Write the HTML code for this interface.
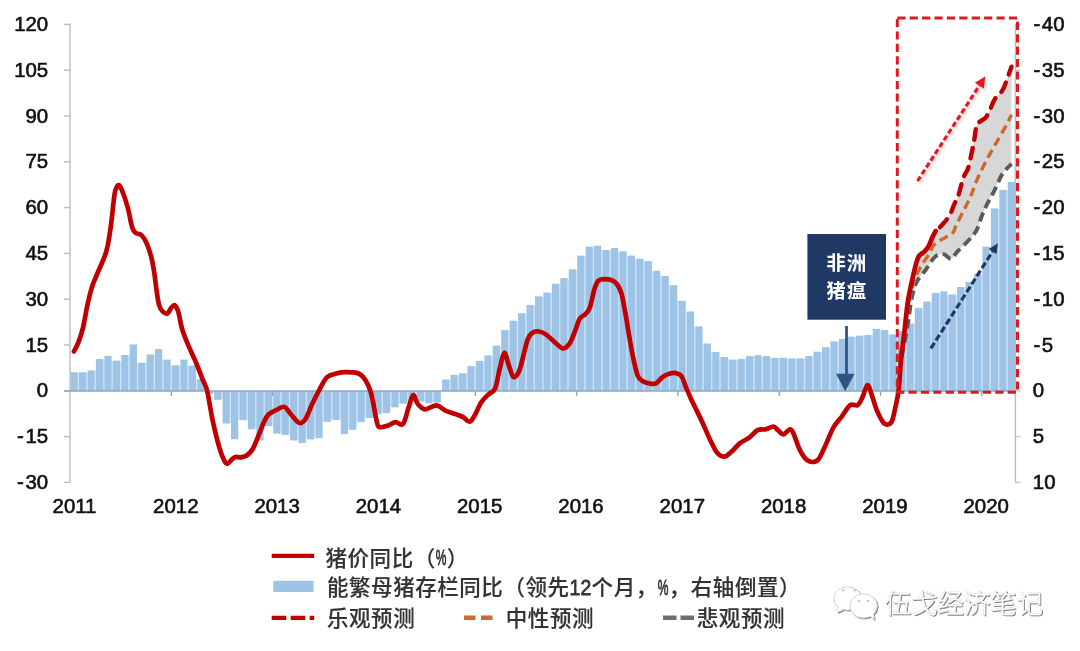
<!DOCTYPE html>
<html lang="zh"><head><meta charset="utf-8"><title>猪价同比</title>
<style>
html,body{margin:0;padding:0;background:#fff;}
body{width:1080px;height:651px;overflow:hidden;}
svg{display:block}
.num{font-family:"Liberation Sans",sans-serif;font-size:20.4px;fill:#111;stroke:#111;stroke-width:0.6px;}
.cjk{font-family:"Liberation Sans","Noto Sans CJK SC",sans-serif;font-weight:500;font-size:21.5px;letter-spacing:0.55px;fill:#333;stroke:#333;stroke-width:0.15px;}
.lat{font-family:"Liberation Sans",sans-serif;font-weight:400;font-size:21.5px;fill:#333;stroke:#333;stroke-width:0.8px;}
.box{font-family:"Liberation Sans","Noto Sans CJK SC",sans-serif;font-weight:700;font-size:19.5px;fill:#fff;letter-spacing:1px;}
.wm{font-family:"Liberation Sans","Noto Sans CJK SC",sans-serif;font-weight:300;font-size:26.4px;fill:#fff;stroke:#c9c9c9;stroke-width:0.5px;paint-order:stroke;}
</style></head><body>
<svg width="1080" height="651" viewBox="0 0 1080 651">
<defs>
<filter id="sh" x="-20%" y="-20%" width="140%" height="140%"><feDropShadow dx="0.9" dy="0.9" stdDeviation="0.55" flood-color="#000" flood-opacity="0.6"/></filter>
<filter id="soft" x="-20%" y="-20%" width="140%" height="140%"><feDropShadow dx="1.5" dy="1.5" stdDeviation="1.5" flood-color="#000" flood-opacity="0.25"/></filter>
</defs>
<rect width="1080" height="651" fill="#fff"/>

<g fill="#cfe1f3">
<rect x="77.65" y="372.8" width="1.6" height="18.2"/>
<rect x="86.09" y="372.8" width="1.6" height="18.2"/>
<rect x="94.54" y="371.0" width="1.6" height="20.0"/>
<rect x="102.98" y="359.7" width="1.6" height="31.3"/>
<rect x="111.42" y="361.2" width="1.6" height="29.8"/>
<rect x="119.86" y="361.2" width="1.6" height="29.8"/>
<rect x="128.31" y="355.6" width="1.6" height="35.4"/>
<rect x="136.75" y="363.4" width="1.6" height="27.6"/>
<rect x="145.19" y="363.4" width="1.6" height="27.6"/>
<rect x="153.64" y="355.0" width="1.6" height="36.0"/>
<rect x="162.08" y="360.2" width="1.6" height="30.8"/>
<rect x="170.52" y="365.8" width="1.6" height="25.2"/>
<rect x="178.97" y="365.8" width="1.6" height="25.2"/>
<rect x="187.41" y="366.2" width="1.6" height="24.8"/>
<rect x="195.85" y="379.6" width="1.6" height="11.4"/>
<rect x="212.74" y="391.0" width="1.6" height="2.3"/>
<rect x="221.18" y="391.0" width="1.6" height="8.2"/>
<rect x="229.62" y="391.0" width="1.6" height="31.9"/>
<rect x="238.07" y="391.0" width="1.6" height="28.6"/>
<rect x="246.51" y="391.0" width="1.6" height="28.6"/>
<rect x="254.95" y="391.0" width="1.6" height="37.7"/>
<rect x="263.40" y="391.0" width="1.6" height="34.5"/>
<rect x="271.84" y="391.0" width="1.6" height="34.5"/>
<rect x="280.28" y="391.0" width="1.6" height="42.1"/>
<rect x="288.72" y="391.0" width="1.6" height="43.3"/>
<rect x="297.17" y="391.0" width="1.6" height="48.8"/>
<rect x="305.61" y="391.0" width="1.6" height="47.8"/>
<rect x="314.05" y="391.0" width="1.6" height="46.5"/>
<rect x="322.50" y="391.0" width="1.6" height="30.2"/>
<rect x="330.94" y="391.0" width="1.6" height="28.4"/>
<rect x="339.38" y="391.0" width="1.6" height="28.4"/>
<rect x="347.83" y="391.0" width="1.6" height="38.2"/>
<rect x="356.27" y="391.0" width="1.6" height="30.5"/>
<rect x="364.71" y="391.0" width="1.6" height="26.4"/>
<rect x="373.16" y="391.0" width="1.6" height="22.7"/>
<rect x="381.60" y="391.0" width="1.6" height="21.5"/>
<rect x="390.04" y="391.0" width="1.6" height="15.8"/>
<rect x="398.48" y="391.0" width="1.6" height="12.1"/>
<rect x="406.93" y="391.0" width="1.6" height="10.4"/>
<rect x="415.37" y="391.0" width="1.6" height="9.9"/>
<rect x="423.81" y="391.0" width="1.6" height="9.9"/>
<rect x="432.26" y="391.0" width="1.6" height="11.0"/>
<rect x="449.14" y="380.0" width="1.6" height="11.0"/>
<rect x="457.58" y="375.4" width="1.6" height="15.6"/>
<rect x="466.03" y="373.9" width="1.6" height="17.1"/>
<rect x="474.47" y="366.7" width="1.6" height="24.3"/>
<rect x="482.91" y="361.5" width="1.6" height="29.5"/>
<rect x="491.36" y="356.0" width="1.6" height="35.0"/>
<rect x="499.80" y="346.2" width="1.6" height="44.8"/>
<rect x="508.24" y="330.6" width="1.6" height="60.4"/>
<rect x="516.69" y="321.3" width="1.6" height="69.7"/>
<rect x="525.13" y="313.9" width="1.6" height="77.1"/>
<rect x="533.57" y="305.6" width="1.6" height="85.4"/>
<rect x="542.01" y="296.9" width="1.6" height="94.1"/>
<rect x="550.46" y="293.2" width="1.6" height="97.8"/>
<rect x="558.90" y="284.3" width="1.6" height="106.7"/>
<rect x="567.34" y="278.7" width="1.6" height="112.3"/>
<rect x="575.79" y="269.9" width="1.6" height="121.1"/>
<rect x="584.23" y="256.2" width="1.6" height="134.8"/>
<rect x="592.67" y="247.3" width="1.6" height="143.7"/>
<rect x="601.12" y="250.6" width="1.6" height="140.4"/>
<rect x="609.56" y="250.6" width="1.6" height="140.4"/>
<rect x="618.00" y="251.9" width="1.6" height="139.1"/>
<rect x="626.44" y="256.2" width="1.6" height="134.8"/>
<rect x="634.89" y="259.3" width="1.6" height="131.7"/>
<rect x="643.33" y="261.7" width="1.6" height="129.3"/>
<rect x="651.77" y="271.3" width="1.6" height="119.7"/>
<rect x="660.22" y="276.5" width="1.6" height="114.5"/>
<rect x="668.66" y="285.8" width="1.6" height="105.2"/>
<rect x="677.10" y="301.4" width="1.6" height="89.6"/>
<rect x="685.55" y="312.1" width="1.6" height="78.9"/>
<rect x="693.99" y="326.9" width="1.6" height="64.1"/>
<rect x="702.43" y="344.1" width="1.6" height="46.9"/>
<rect x="710.88" y="352.5" width="1.6" height="38.5"/>
<rect x="719.32" y="357.6" width="1.6" height="33.4"/>
<rect x="727.76" y="360.2" width="1.6" height="30.8"/>
<rect x="736.20" y="360.2" width="1.6" height="30.8"/>
<rect x="744.65" y="359.5" width="1.6" height="31.5"/>
<rect x="753.09" y="356.7" width="1.6" height="34.3"/>
<rect x="761.53" y="356.7" width="1.6" height="34.3"/>
<rect x="769.98" y="358.4" width="1.6" height="32.6"/>
<rect x="778.42" y="358.4" width="1.6" height="32.6"/>
<rect x="786.86" y="359.1" width="1.6" height="31.9"/>
<rect x="795.30" y="359.1" width="1.6" height="31.9"/>
<rect x="803.75" y="358.9" width="1.6" height="32.1"/>
<rect x="812.19" y="356.7" width="1.6" height="34.3"/>
<rect x="820.63" y="352.3" width="1.6" height="38.7"/>
<rect x="829.08" y="347.8" width="1.6" height="43.2"/>
<rect x="837.52" y="342.0" width="1.6" height="49.0"/>
<rect x="845.96" y="339.5" width="1.6" height="51.5"/>
<rect x="854.41" y="337.3" width="1.6" height="53.7"/>
<rect x="862.85" y="336.2" width="1.6" height="54.8"/>
<rect x="871.29" y="335.6" width="1.6" height="55.4"/>
<rect x="879.73" y="330.6" width="1.6" height="60.4"/>
<rect x="888.18" y="335.0" width="1.6" height="56.0"/>
<rect x="896.62" y="335.0" width="1.6" height="56.0"/>
<rect x="905.06" y="331.6" width="1.6" height="59.4"/>
<rect x="913.51" y="324.1" width="1.6" height="66.9"/>
<rect x="921.95" y="308.6" width="1.6" height="82.4"/>
<rect x="930.39" y="302.1" width="1.6" height="88.9"/>
<rect x="938.84" y="293.6" width="1.6" height="97.4"/>
<rect x="947.28" y="295.0" width="1.6" height="96.0"/>
<rect x="955.72" y="295.0" width="1.6" height="96.0"/>
<rect x="964.16" y="287.6" width="1.6" height="103.4"/>
<rect x="972.61" y="282.6" width="1.6" height="108.4"/>
<rect x="981.05" y="274.3" width="1.6" height="116.7"/>
<rect x="989.49" y="247.2" width="1.6" height="143.8"/>
<rect x="997.94" y="208.9" width="1.6" height="182.1"/>
<rect x="1006.38" y="190.4" width="1.6" height="200.6"/>
</g>
<g fill="#9dc3e6">
<rect x="70.60" y="372.2" width="7.2" height="18.8"/>
<rect x="79.04" y="372.2" width="7.2" height="18.8"/>
<rect x="87.49" y="370.4" width="7.2" height="20.6"/>
<rect x="95.93" y="359.1" width="7.2" height="31.9"/>
<rect x="104.37" y="355.9" width="7.2" height="35.1"/>
<rect x="112.81" y="360.6" width="7.2" height="30.4"/>
<rect x="121.26" y="355.0" width="7.2" height="36.0"/>
<rect x="129.70" y="344.4" width="7.2" height="46.6"/>
<rect x="138.14" y="362.8" width="7.2" height="28.2"/>
<rect x="146.59" y="354.4" width="7.2" height="36.6"/>
<rect x="155.03" y="349.1" width="7.2" height="41.9"/>
<rect x="163.47" y="359.6" width="7.2" height="31.4"/>
<rect x="171.92" y="365.2" width="7.2" height="25.8"/>
<rect x="180.36" y="359.6" width="7.2" height="31.4"/>
<rect x="188.80" y="365.6" width="7.2" height="25.4"/>
<rect x="197.25" y="379.0" width="7.2" height="12.0"/>
<rect x="205.69" y="391.0" width="7.2" height="2.9"/>
<rect x="214.13" y="391.0" width="7.2" height="8.8"/>
<rect x="222.57" y="391.0" width="7.2" height="32.5"/>
<rect x="231.02" y="391.0" width="7.2" height="48.3"/>
<rect x="239.46" y="391.0" width="7.2" height="29.2"/>
<rect x="247.90" y="391.0" width="7.2" height="38.3"/>
<rect x="256.35" y="391.0" width="7.2" height="49.4"/>
<rect x="264.79" y="391.0" width="7.2" height="35.1"/>
<rect x="273.23" y="391.0" width="7.2" height="42.7"/>
<rect x="281.67" y="391.0" width="7.2" height="43.9"/>
<rect x="290.12" y="391.0" width="7.2" height="49.4"/>
<rect x="298.56" y="391.0" width="7.2" height="52.1"/>
<rect x="307.00" y="391.0" width="7.2" height="48.4"/>
<rect x="315.45" y="391.0" width="7.2" height="47.1"/>
<rect x="323.89" y="391.0" width="7.2" height="30.8"/>
<rect x="332.33" y="391.0" width="7.2" height="29.0"/>
<rect x="340.78" y="391.0" width="7.2" height="43.1"/>
<rect x="349.22" y="391.0" width="7.2" height="38.8"/>
<rect x="357.66" y="391.0" width="7.2" height="31.1"/>
<rect x="366.11" y="391.0" width="7.2" height="27.0"/>
<rect x="374.55" y="391.0" width="7.2" height="23.3"/>
<rect x="382.99" y="391.0" width="7.2" height="22.1"/>
<rect x="391.43" y="391.0" width="7.2" height="16.4"/>
<rect x="399.88" y="391.0" width="7.2" height="12.7"/>
<rect x="408.32" y="391.0" width="7.2" height="11.0"/>
<rect x="416.76" y="391.0" width="7.2" height="10.5"/>
<rect x="425.21" y="391.0" width="7.2" height="12.3"/>
<rect x="433.65" y="391.0" width="7.2" height="11.6"/>
<rect x="442.09" y="379.4" width="7.2" height="11.6"/>
<rect x="450.53" y="374.8" width="7.2" height="16.2"/>
<rect x="458.98" y="373.3" width="7.2" height="17.7"/>
<rect x="467.42" y="366.1" width="7.2" height="24.9"/>
<rect x="475.86" y="360.9" width="7.2" height="30.1"/>
<rect x="484.31" y="355.4" width="7.2" height="35.6"/>
<rect x="492.75" y="345.6" width="7.2" height="45.4"/>
<rect x="501.19" y="330.0" width="7.2" height="61.0"/>
<rect x="509.64" y="320.7" width="7.2" height="70.3"/>
<rect x="518.08" y="313.3" width="7.2" height="77.7"/>
<rect x="526.52" y="305.0" width="7.2" height="86.0"/>
<rect x="534.96" y="296.3" width="7.2" height="94.7"/>
<rect x="543.41" y="292.6" width="7.2" height="98.4"/>
<rect x="551.85" y="283.7" width="7.2" height="107.3"/>
<rect x="560.29" y="278.1" width="7.2" height="112.9"/>
<rect x="568.74" y="269.3" width="7.2" height="121.7"/>
<rect x="577.18" y="255.6" width="7.2" height="135.4"/>
<rect x="585.62" y="246.7" width="7.2" height="144.3"/>
<rect x="594.07" y="245.7" width="7.2" height="145.3"/>
<rect x="602.51" y="250.0" width="7.2" height="141.0"/>
<rect x="610.95" y="248.1" width="7.2" height="142.9"/>
<rect x="619.39" y="251.3" width="7.2" height="139.7"/>
<rect x="627.84" y="255.6" width="7.2" height="135.4"/>
<rect x="636.28" y="258.7" width="7.2" height="132.3"/>
<rect x="644.72" y="261.1" width="7.2" height="129.9"/>
<rect x="653.17" y="270.7" width="7.2" height="120.3"/>
<rect x="661.61" y="275.9" width="7.2" height="115.1"/>
<rect x="670.05" y="285.2" width="7.2" height="105.8"/>
<rect x="678.50" y="300.8" width="7.2" height="90.2"/>
<rect x="686.94" y="311.5" width="7.2" height="79.5"/>
<rect x="695.38" y="326.3" width="7.2" height="64.7"/>
<rect x="703.83" y="343.5" width="7.2" height="47.5"/>
<rect x="712.27" y="351.9" width="7.2" height="39.1"/>
<rect x="720.71" y="357.0" width="7.2" height="34.0"/>
<rect x="729.15" y="359.6" width="7.2" height="31.4"/>
<rect x="737.60" y="358.9" width="7.2" height="32.1"/>
<rect x="746.04" y="356.1" width="7.2" height="34.9"/>
<rect x="754.48" y="355.2" width="7.2" height="35.8"/>
<rect x="762.93" y="356.1" width="7.2" height="34.9"/>
<rect x="771.37" y="357.8" width="7.2" height="33.2"/>
<rect x="779.81" y="357.8" width="7.2" height="33.2"/>
<rect x="788.25" y="358.5" width="7.2" height="32.5"/>
<rect x="796.70" y="358.3" width="7.2" height="32.7"/>
<rect x="805.14" y="356.1" width="7.2" height="34.9"/>
<rect x="813.58" y="351.7" width="7.2" height="39.3"/>
<rect x="822.03" y="347.2" width="7.2" height="43.8"/>
<rect x="830.47" y="341.4" width="7.2" height="49.6"/>
<rect x="838.91" y="338.9" width="7.2" height="52.1"/>
<rect x="847.36" y="336.7" width="7.2" height="54.3"/>
<rect x="855.80" y="335.6" width="7.2" height="55.4"/>
<rect x="864.24" y="335.0" width="7.2" height="56.0"/>
<rect x="872.68" y="328.9" width="7.2" height="62.1"/>
<rect x="881.13" y="330.0" width="7.2" height="61.0"/>
<rect x="889.57" y="334.4" width="7.2" height="56.6"/>
<rect x="898.01" y="331.0" width="7.2" height="60.0"/>
<rect x="906.46" y="323.5" width="7.2" height="67.5"/>
<rect x="914.90" y="308.0" width="7.2" height="83.0"/>
<rect x="923.34" y="301.5" width="7.2" height="89.5"/>
<rect x="931.79" y="293.0" width="7.2" height="98.0"/>
<rect x="940.23" y="291.4" width="7.2" height="99.6"/>
<rect x="948.67" y="294.4" width="7.2" height="96.6"/>
<rect x="957.12" y="287.0" width="7.2" height="104.0"/>
<rect x="965.56" y="282.0" width="7.2" height="109.0"/>
<rect x="974.00" y="273.7" width="7.2" height="117.3"/>
<rect x="982.44" y="246.6" width="7.2" height="144.4"/>
<rect x="990.89" y="208.3" width="7.2" height="182.7"/>
<rect x="999.33" y="189.8" width="7.2" height="201.2"/>
<rect x="1007.77" y="181.9" width="7.2" height="209.1"/>
</g>
<g stroke="#bcbcbc" stroke-width="1.4" fill="none">
<path d="M70,23.7V483.1"/>
<path d="M1015.4,23.7V483.1"/>
<path d="M64,24.4H70"/>
<path d="M1015.4,24.4H1020.6" stroke="#c8c8c8"/>
<path d="M64,70.2H70"/>
<path d="M1015.4,70.2H1020.6" stroke="#c8c8c8"/>
<path d="M64,116.0H70"/>
<path d="M1015.4,116.0H1020.6" stroke="#c8c8c8"/>
<path d="M64,161.8H70"/>
<path d="M1015.4,161.8H1020.6" stroke="#c8c8c8"/>
<path d="M64,207.6H70"/>
<path d="M1015.4,207.6H1020.6" stroke="#c8c8c8"/>
<path d="M64,253.4H70"/>
<path d="M1015.4,253.4H1020.6" stroke="#c8c8c8"/>
<path d="M64,299.2H70"/>
<path d="M1015.4,299.2H1020.6" stroke="#c8c8c8"/>
<path d="M64,345.0H70"/>
<path d="M1015.4,345.0H1020.6" stroke="#c8c8c8"/>
<path d="M64,390.8H70"/>
<path d="M1015.4,390.8H1020.6" stroke="#c8c8c8"/>
<path d="M64,436.6H70"/>
<path d="M1015.4,436.6H1020.6" stroke="#c8c8c8"/>
<path d="M64,482.4H70"/>
<path d="M1015.4,482.4H1020.6" stroke="#c8c8c8"/>
</g>
<g stroke="#8fa6bf" stroke-width="1.4" fill="none">
<path d="M64,391.0H1015.4"/>
<path d="M171.3,391.0v5"/>
<path d="M272.6,391.0v5"/>
<path d="M373.9,391.0v5"/>
<path d="M475.3,391.0v5"/>
<path d="M576.6,391.0v5"/>
<path d="M677.9,391.0v5"/>
<path d="M779.2,391.0v5"/>
<path d="M880.5,391.0v5"/>
<path d="M981.8,391.0v5"/>
</g>
<path d="M904.0,336.0C904.6,330.3 906.4,311.3 907.8,302.0C909.2,292.7 910.9,286.1 912.2,280.0C913.5,273.9 914.5,269.6 915.6,265.6C916.7,261.6 917.4,258.4 918.9,256.1C920.4,253.8 922.7,253.4 924.4,251.7C926.1,249.9 927.6,247.9 928.9,245.6C930.2,243.3 931.1,240.2 932.2,237.8C933.3,235.4 934.0,233.2 935.6,231.1C937.2,229.0 939.7,227.6 942.0,225.0C944.3,222.4 947.4,219.1 949.4,215.7C951.4,212.3 952.5,208.1 954.1,204.6C955.7,201.1 957.2,198.9 958.7,194.4C960.2,189.9 961.8,182.1 963.3,177.8C964.8,173.5 966.6,172.7 968.0,168.5C969.4,164.3 970.6,157.7 971.7,152.8C972.8,147.9 973.6,143.2 974.4,138.9C975.2,134.6 975.5,129.7 976.3,126.9C977.1,124.1 977.5,123.8 979.1,122.2C980.7,120.7 983.8,119.8 985.6,117.6C987.5,115.4 988.7,112.4 990.2,109.3C991.7,106.2 992.8,102.2 994.8,99.1C996.8,96.0 1000.4,93.5 1002.2,90.7C1004.1,87.9 1004.4,86.4 1005.9,82.4C1007.4,78.4 1010.6,69.3 1011.5,66.7L1011.5,163.9L1011.5,163.9C1010.0,165.6 1005.0,169.8 1002.2,174.1C999.4,178.4 997.3,184.9 994.8,189.8C992.3,194.7 989.5,199.4 987.4,203.7C985.2,208.0 983.7,211.3 981.9,215.7C980.1,220.1 978.9,225.9 976.7,230.0C974.5,234.1 972.0,236.5 968.9,240.0C965.8,243.5 960.8,247.9 957.8,251.1C954.8,254.2 953.3,258.3 951.1,258.9C948.9,259.4 946.6,255.1 944.4,254.4C942.2,253.8 939.8,254.1 937.8,255.0C935.8,255.9 934.2,257.5 932.2,260.0C930.2,262.5 928.0,266.7 925.6,270.0C923.2,273.3 919.8,276.7 917.8,280.0C915.8,283.3 914.9,286.3 913.8,290.0C912.7,293.7 911.9,297.0 911.0,302.0C910.1,307.0 908.9,317.0 908.5,320.0Z" fill="#d4d4d4" fill-opacity="0.92" stroke="none"/>
<path d="M901.5,357.0C902.1,354.2 903.8,346.2 905.0,340.0C906.2,333.8 907.5,326.3 908.5,320.0C909.5,313.7 910.1,307.0 911.0,302.0C911.9,297.0 912.7,293.7 913.8,290.0C914.9,286.3 915.8,283.3 917.8,280.0C919.8,276.7 923.2,273.3 925.6,270.0C928.0,266.7 930.2,262.5 932.2,260.0C934.2,257.5 935.8,255.9 937.8,255.0C939.8,254.1 942.2,253.8 944.4,254.4C946.6,255.1 948.9,259.4 951.1,258.9C953.3,258.3 954.8,254.2 957.8,251.1C960.8,247.9 965.8,243.5 968.9,240.0C972.0,236.5 974.5,234.1 976.7,230.0C978.9,225.9 980.1,220.1 981.9,215.7C983.7,211.3 985.2,208.0 987.4,203.7C989.5,199.4 992.3,194.7 994.8,189.8C997.3,184.9 999.4,178.4 1002.2,174.1C1005.0,169.8 1010.0,165.6 1011.5,163.9" fill="none" stroke="#5a5a5a" stroke-width="3.9" stroke-dasharray="9.5 5" stroke-linecap="butt"/>
<path d="M900.0,357.0C900.5,353.8 901.9,344.8 903.0,338.0C904.1,331.2 905.3,322.9 906.5,316.0C907.7,309.1 908.9,302.1 910.0,296.7C911.1,291.2 912.2,287.0 913.3,283.3C914.4,279.6 915.2,277.5 916.7,274.4C918.2,271.2 920.2,267.7 922.2,264.4C924.2,261.1 927.0,257.5 928.9,254.4C930.8,251.3 931.6,247.8 933.3,245.6C935.0,243.4 936.7,242.6 938.9,241.1C941.1,239.6 944.3,238.2 946.7,236.7C949.1,235.2 951.8,234.0 953.3,232.2C954.8,230.4 954.2,229.4 955.9,225.9C957.6,222.4 960.8,216.0 963.3,211.1C965.8,206.2 968.5,201.2 970.7,196.3C972.9,191.4 974.1,186.6 976.3,181.5C978.5,176.4 981.2,170.6 983.7,165.7C986.2,160.8 988.6,156.4 991.1,151.9C993.6,147.4 996.0,143.2 998.5,138.9C1001.0,134.6 1003.7,129.9 1005.9,125.9C1008.1,121.9 1010.6,116.7 1011.5,114.8" fill="none" stroke="#cc6a2c" stroke-width="3.4" stroke-dasharray="9 5"/>
<path d="M935.6,231.1C936.7,230.1 939.7,227.6 942.0,225.0C944.3,222.4 947.4,219.1 949.4,215.7C951.4,212.3 952.5,208.1 954.1,204.6C955.7,201.1 957.2,198.9 958.7,194.4C960.2,189.9 961.8,182.1 963.3,177.8C964.8,173.5 966.6,172.7 968.0,168.5C969.4,164.3 970.6,157.7 971.7,152.8C972.8,147.9 973.6,143.2 974.4,138.9C975.2,134.6 975.5,129.7 976.3,126.9C977.1,124.1 977.5,123.8 979.1,122.2C980.7,120.7 983.8,119.8 985.6,117.6C987.5,115.4 988.7,112.4 990.2,109.3C991.7,106.2 992.8,102.2 994.8,99.1C996.8,96.0 1000.4,93.5 1002.2,90.7C1004.1,87.9 1004.4,86.4 1005.9,82.4C1007.4,78.4 1010.6,69.3 1011.5,66.7" fill="none" stroke="#c00000" stroke-width="4.4" stroke-dasharray="10.5 8.5" stroke-linecap="round" stroke-dashoffset="-6"/>
<path d="M73.9,351.5C74.7,349.9 77.0,346.2 78.5,342.2C80.0,338.2 81.5,333.9 83.1,327.4C84.6,320.9 86.2,310.2 87.8,303.3C89.3,296.4 90.7,290.9 92.4,285.7C94.1,280.5 95.7,277.7 98.0,272.0C100.3,266.3 104.1,259.2 106.3,251.5C108.5,243.8 109.5,235.2 110.9,225.6C112.3,216.0 113.4,200.8 114.6,194.1C115.8,187.4 117.1,185.8 118.3,185.2C119.5,184.6 120.5,186.8 122.0,190.4C123.5,194.0 125.9,200.8 127.6,207.0C129.3,213.2 130.8,223.1 132.2,227.4C133.6,231.7 134.3,231.7 135.9,233.0C137.5,234.3 139.7,233.3 141.5,235.2C143.3,237.0 145.3,240.2 147.0,244.1C148.7,248.0 150.5,254.0 151.7,258.9C152.9,263.8 153.6,268.8 154.4,273.7C155.2,278.6 155.5,283.2 156.3,288.5C157.1,293.8 158.0,301.3 159.1,305.2C160.2,309.1 161.4,310.3 162.8,311.7C164.2,313.1 166.0,314.1 167.4,313.5C168.8,312.9 169.9,309.4 171.1,308.0C172.3,306.6 173.6,304.4 174.8,305.2C176.0,306.0 177.3,308.6 178.5,312.6C179.7,316.6 180.6,324.1 182.2,329.3C183.8,334.6 185.6,338.9 187.8,344.1C190.0,349.3 192.7,354.8 195.2,360.7C197.7,366.6 200.6,374.2 202.6,379.3C204.6,384.4 205.4,383.8 207.2,391.0C208.9,398.2 211.0,413.0 213.1,422.6C215.2,432.2 217.7,442.2 219.6,448.5C221.5,454.8 223.0,458.1 224.3,460.6C225.6,463.1 226.4,463.9 227.6,463.7C228.8,463.5 230.4,460.7 231.7,459.6C233.0,458.5 233.9,457.3 235.4,456.9C236.9,456.5 238.9,457.7 240.9,457.4C242.9,457.1 245.4,456.5 247.4,455.0C249.4,453.5 251.2,451.7 253.0,448.5C254.8,445.3 256.6,440.1 258.5,435.6C260.4,431.1 262.4,425.2 264.1,421.7C265.8,418.1 266.6,416.3 268.7,414.3C270.8,412.3 274.4,410.8 277.0,409.6C279.6,408.4 282.1,406.1 284.4,406.9C286.7,407.7 288.7,411.8 290.9,414.3C293.1,416.8 295.7,420.2 297.4,421.7C299.1,423.1 299.7,423.5 301.1,423.0C302.5,422.5 303.9,422.0 305.7,418.9C307.5,415.8 309.9,409.0 312.2,404.1C314.5,399.2 317.1,393.8 319.6,389.3C322.1,384.8 324.2,379.8 327.0,377.2C329.8,374.6 333.2,374.3 336.3,373.5C339.4,372.7 341.9,372.2 345.6,372.2C349.3,372.2 355.1,372.1 358.5,373.5C361.9,374.9 363.7,377.3 365.9,380.9C368.1,384.4 369.6,387.9 371.5,394.8C373.4,401.8 375.5,417.2 377.0,422.6C378.5,428.0 378.8,426.7 380.7,427.2C382.6,427.7 385.6,426.2 388.1,425.4C390.6,424.6 393.1,422.4 395.6,422.2C398.1,422.0 400.9,426.4 403.0,424.0C405.1,421.6 406.8,412.6 408.5,407.8C410.2,403.0 411.6,395.8 413.1,395.2C414.7,394.6 415.8,401.6 417.8,404.0C419.8,406.4 422.1,409.1 425.2,409.3C428.3,409.5 433.2,405.1 436.7,405.4C440.1,405.7 442.5,409.4 445.9,410.9C449.3,412.4 454.1,413.5 457.0,414.6C459.9,415.7 461.4,416.2 463.5,417.4C465.6,418.6 467.8,422.0 469.6,421.7C471.5,421.4 472.7,418.8 474.6,415.6C476.5,412.4 478.8,406.2 481.1,402.6C483.4,399.1 486.2,396.6 488.5,394.3C490.8,392.0 493.1,392.9 495.0,388.7C496.9,384.5 498.1,375.2 499.6,369.3C501.2,363.4 502.8,353.6 504.3,353.0C505.9,352.4 507.4,361.6 508.9,365.6C510.4,369.6 511.8,376.1 513.5,377.0C515.2,377.9 517.2,375.5 519.1,371.1C521.0,366.7 523.2,356.0 524.6,350.7C526.0,345.4 526.5,342.3 527.8,339.3C529.1,336.3 530.5,334.1 532.4,332.8C534.2,331.5 536.6,331.2 538.9,331.5C541.2,331.8 543.5,332.7 546.3,334.6C549.1,336.5 552.8,340.7 555.6,343.0C558.4,345.3 560.7,348.4 563.0,348.5C565.3,348.6 567.5,346.4 569.4,343.9C571.2,341.4 572.4,337.9 574.1,333.7C575.8,329.5 577.8,322.1 579.6,318.9C581.5,315.7 583.5,316.1 585.2,314.3C586.9,312.5 588.3,312.0 589.8,307.8C591.3,303.6 593.0,293.8 594.4,289.3C595.8,284.8 596.5,282.6 598.1,280.9C599.7,279.2 601.5,279.2 603.7,279.1C605.9,279.0 608.9,279.2 611.1,280.0C613.3,280.8 615.0,281.5 616.7,283.7C618.4,285.9 619.9,288.3 621.3,293.0C622.7,297.7 623.9,305.0 625.2,312.0C626.5,319.0 627.7,327.7 629.0,335.0C630.3,342.3 631.3,349.2 632.8,356.0C634.3,362.8 636.0,371.6 637.8,375.9C639.5,380.1 641.1,380.2 643.3,381.5C645.4,382.8 648.5,383.4 650.7,383.7C652.9,384.0 654.3,384.4 656.3,383.3C658.3,382.2 660.6,378.5 662.8,376.9C665.0,375.3 667.1,374.3 669.3,373.7C671.4,373.1 673.7,372.7 675.7,373.1C677.7,373.5 679.6,373.6 681.3,375.9C683.0,378.2 684.2,383.0 685.9,387.0C687.6,391.0 689.6,396.0 691.5,400.0C693.4,404.0 695.1,407.2 697.0,411.1C698.9,415.1 700.8,418.8 703.0,423.7C705.2,428.6 708.1,435.6 710.4,440.4C712.7,445.2 714.6,449.7 716.9,452.4C719.2,455.1 721.8,456.8 724.3,456.7C726.8,456.6 729.1,453.8 731.7,451.5C734.3,449.2 737.1,445.4 740.0,443.1C742.9,440.8 746.4,439.8 749.3,437.6C752.2,435.5 754.8,431.6 757.6,430.2C760.4,428.8 763.3,429.9 765.9,429.3C768.5,428.7 771.3,426.4 773.3,426.5C775.3,426.6 776.3,428.9 778.0,430.2C779.7,431.5 781.5,434.5 783.5,434.4C785.5,434.2 788.3,429.4 790.0,429.3C791.7,429.2 792.2,430.7 793.7,433.9C795.2,437.1 797.3,444.5 799.3,448.7C801.3,452.9 803.6,456.7 805.7,458.9C807.9,461.1 810.0,462.0 812.2,462.0C814.4,462.0 816.5,461.6 818.7,458.9C820.9,456.2 822.7,451.1 825.2,445.9C827.7,440.6 830.7,432.3 833.5,427.4C836.3,422.5 839.1,420.0 841.9,416.3C844.7,412.6 847.6,407.1 850.2,405.2C852.8,403.3 855.6,406.4 857.6,405.2C859.6,404.0 860.6,401.1 862.2,397.8C863.8,394.5 865.9,385.8 867.4,385.2C868.9,384.6 869.9,389.9 871.5,394.1C873.1,398.4 875.0,405.9 877.0,410.7C879.0,415.5 881.7,420.5 883.5,422.8C885.3,425.1 886.6,424.8 888.0,424.5C889.4,424.2 890.9,423.4 892.0,421.0C893.1,418.6 893.7,415.0 894.8,410.0C895.9,405.0 897.5,399.3 898.5,391.0C899.5,382.7 900.1,369.2 901.0,360.0C901.9,350.8 902.9,345.7 904.0,336.0C905.1,326.3 906.4,311.3 907.8,302.0C909.2,292.7 910.9,286.1 912.2,280.0C913.5,273.9 914.5,269.6 915.6,265.6C916.7,261.6 917.4,258.4 918.9,256.1C920.4,253.8 922.7,253.4 924.4,251.7C926.1,249.9 927.6,247.9 928.9,245.6C930.2,243.3 931.1,240.2 932.2,237.8C933.3,235.4 935.0,232.2 935.6,231.1" fill="none" stroke="#c00000" stroke-width="4.7" stroke-linejoin="round" stroke-linecap="round"/>
<rect x="897.3" y="18" width="120.2" height="374.2" fill="none" stroke="#dc1a22" stroke-width="3" stroke-dasharray="8.2 4.2"/>
<g filter="url(#soft)"><path d="M917.5,181.0L979.9,84.8" stroke="#e8141e" stroke-width="3.1" stroke-dasharray="5.3 2.8" fill="none"/><path d="M985.2,76.6L983.8,88.5L974.9,82.8Z" fill="#e8141e"/></g>
<g><path d="M930.9,348.3L993.2,250.6" stroke="#1f3864" stroke-width="3.2" stroke-dasharray="6.5 3" fill="none"/><path d="M997.9,243.2L996.6,254.0L988.7,248.9Z" fill="#1f3864"/></g>
<rect x="807.4" y="234" width="78.6" height="85.7" fill="#1f3864"/>
<path d="M846.5,326V375" stroke="#2e5484" stroke-width="2.8" fill="none"/><path d="M836,373.8H854.6L845.3,391.2Z" fill="#2e5484"/>
<text class="box" x="846.7" y="269.8" text-anchor="middle">非洲</text>
<text class="box" x="846.7" y="298.3" text-anchor="middle">猪瘟</text>
<text class="num" x="48.2" y="30.9" text-anchor="end">120</text>
<text class="num" x="48.2" y="76.7" text-anchor="end">105</text>
<text class="num" x="48.2" y="122.5" text-anchor="end">90</text>
<text class="num" x="48.2" y="168.3" text-anchor="end">75</text>
<text class="num" x="48.2" y="214.1" text-anchor="end">60</text>
<text class="num" x="48.2" y="259.9" text-anchor="end">45</text>
<text class="num" x="48.2" y="305.7" text-anchor="end">30</text>
<text class="num" x="48.2" y="351.5" text-anchor="end">15</text>
<text class="num" x="48.2" y="397.3" text-anchor="end">0</text>
<text class="num" x="48.2" y="443.1" text-anchor="end">15</text>
<text class="num" x="23.9" y="443.1" text-anchor="end">-</text>
<text class="num" x="48.2" y="488.9" text-anchor="end">30</text>
<text class="num" x="23.9" y="488.9" text-anchor="end">-</text>
<text class="num" x="1033.6" y="30.9">-</text>
<text class="num" x="1041.8" y="30.9">40</text>
<text class="num" x="1033.6" y="76.7">-</text>
<text class="num" x="1041.8" y="76.7">35</text>
<text class="num" x="1033.6" y="122.5">-</text>
<text class="num" x="1041.8" y="122.5">30</text>
<text class="num" x="1033.6" y="168.3">-</text>
<text class="num" x="1041.8" y="168.3">25</text>
<text class="num" x="1033.6" y="214.1">-</text>
<text class="num" x="1041.8" y="214.1">20</text>
<text class="num" x="1033.6" y="259.9">-</text>
<text class="num" x="1041.8" y="259.9">15</text>
<text class="num" x="1033.6" y="305.7">-</text>
<text class="num" x="1041.8" y="305.7">10</text>
<text class="num" x="1033.6" y="351.5">-</text>
<text class="num" x="1041.8" y="351.5">5</text>
<text class="num" x="1032.8" y="397.3">0</text>
<text class="num" x="1032.8" y="443.1">5</text>
<text class="num" x="1032.8" y="488.9">10</text>
<text class="num" x="74.5" y="512.9" text-anchor="middle">2011</text>
<text class="num" x="175.8" y="512.9" text-anchor="middle">2012</text>
<text class="num" x="277.1" y="512.9" text-anchor="middle">2013</text>
<text class="num" x="378.4" y="512.9" text-anchor="middle">2014</text>
<text class="num" x="479.7" y="512.9" text-anchor="middle">2015</text>
<text class="num" x="581.0" y="512.9" text-anchor="middle">2016</text>
<text class="num" x="682.3" y="512.9" text-anchor="middle">2017</text>
<text class="num" x="783.6" y="512.9" text-anchor="middle">2018</text>
<text class="num" x="884.9" y="512.9" text-anchor="middle">2019</text>
<text class="num" x="986.2" y="512.9" text-anchor="middle">2020</text>
<path d="M271.7,555.8H314.2" stroke="#c00000" stroke-width="4.2"/>
<text class="cjk" x="325.50" y="565.8">猪价同比（</text>
<text class="lat" transform="translate(435.75,565.0) scale(0.56,1)">%</text>
<text class="cjk" x="446.78" y="565.8">）</text>
<rect x="273.3" y="580.8" width="40.3" height="11.2" fill="#9dc3e6"/>
<text class="cjk" x="327.00" y="595.4">能繁母猪存栏同比（领先</text>
<text class="lat" transform="translate(569.55,594.6) scale(0.90,1)">1</text>
<text class="lat" transform="translate(580.57,594.6) scale(0.90,1)">2</text>
<text class="cjk" x="591.60" y="595.4">个月，</text>
<text class="lat" transform="translate(657.75,594.6) scale(0.56,1)">%</text>
<text class="cjk" x="668.77" y="595.4">，右轴倒置）</text>
<path d="M271.7,617.8H314.2" stroke="#c00000" stroke-width="4.2" stroke-dasharray="14.5 4.5"/>
<text class="cjk" x="327.00" y="625.6">乐观预测</text>
<path d="M464,617.8H493.5" stroke="#cc6a2c" stroke-width="4.4" stroke-dasharray="11.5 5.5"/>
<text class="cjk" x="505.80" y="625.6">中性预测</text>
<path d="M663,617.8H694" stroke="#6e6e6e" stroke-width="4.4" stroke-dasharray="13.5 4"/>
<text class="cjk" x="696.80" y="625.6">悲观预测</text>
<g filter="url(#sh)" fill="#fff" stroke="#c4c4c4" stroke-width="0.7">
<path d="M838.6,606.5L837.6,612.3L844.5,609.2Z" stroke-linejoin="round"/><ellipse cx="847.8" cy="598.5" rx="14" ry="11.6"/>
<path d="M838.9,606.2L838.3,611.2L843.8,608.8Z" stroke="none"/>
</g>
<g filter="url(#sh)" fill="#fff" stroke="#c4c4c4" stroke-width="0.7">
<path d="M869.5,615.5L874.2,619.6L873.3,612.5Z" stroke-linejoin="round"/><ellipse cx="863.6" cy="605.9" rx="13.6" ry="12.1"/>
<path d="M869.6,615L873.5,618.6L872.9,612.8Z" stroke="none"/>
</g>
<g fill="#cfcfcf"><ellipse cx="843.3" cy="590.3" rx="1.7" ry="1.2"/><ellipse cx="854.8" cy="590.3" rx="1.7" ry="1.2"/><ellipse cx="859" cy="601" rx="1.6" ry="1.2"/><ellipse cx="867.8" cy="601" rx="1.6" ry="1.2"/></g>
<text class="wm" x="884.8" y="612.6" filter="url(#sh)">伍戈经济笔记</text>
</svg></body></html>
